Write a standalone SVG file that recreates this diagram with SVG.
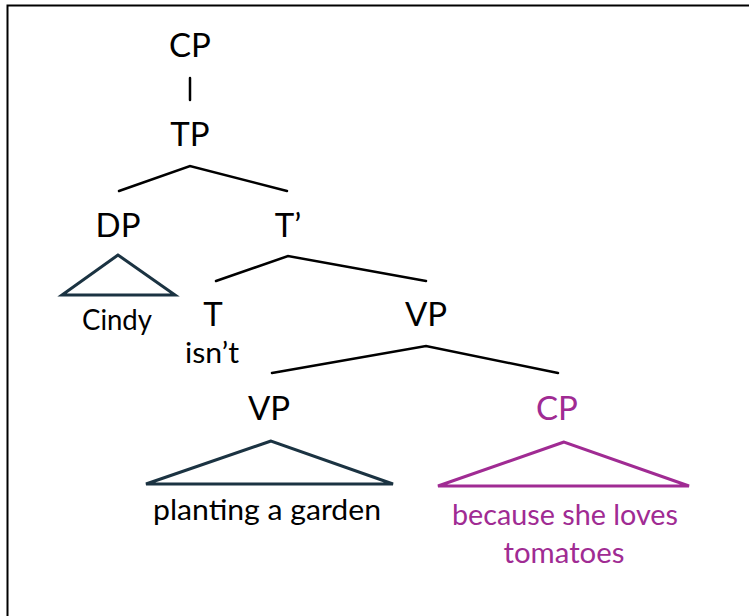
<svg xmlns="http://www.w3.org/2000/svg" width="749" height="616" viewBox="0 0 749 616">
<style>
.lbl{font-family:Lato,"Liberation Sans",sans-serif;font-size:33px;fill:#000;text-anchor:middle}
.sm{font-family:Lato,"Liberation Sans",sans-serif;font-size:28px;fill:#000;text-anchor:middle}
.pur{fill:#a02b93}
.edge{stroke:#000;stroke-width:2.5;fill:none;stroke-linecap:round}
.tri{fill:none;stroke:#1b3342;stroke-width:3;stroke-linejoin:miter}
.tri.p{stroke:#a02b93}
</style>
<rect x="7.5" y="5.5" width="760" height="700" fill="#fff" stroke="#000" stroke-width="2"/>
<g id="connectors">
<line class="edge" x1="190" y1="78" x2="190" y2="100"/>
<polyline class="edge" points="119,191 190,166 287,191"/>
<polyline class="edge" points="216,281 288,256 426,281"/>
<polyline class="edge" points="272,373 426,346 558,373"/>
</g>
<g id="CP-top"><text class="lbl" x="190" y="57">CP</text></g>
<g id="TP"><text class="lbl" x="190" y="146">TP</text></g>
<g id="DP"><text class="lbl" x="118" y="237">DP</text>
<polygon class="tri" points="118,255 62,295 175,295"/>
<text class="sm" x="117" y="330" textLength="70" lengthAdjust="spacingAndGlyphs">Cindy</text></g>
<g id="Tbar"><text class="lbl" x="288" y="237">T’</text></g>
<g id="T"><text class="lbl" x="213" y="326">T</text>
<text class="sm" x="212" y="363" textLength="54" lengthAdjust="spacingAndGlyphs">isn’t</text></g>
<g id="VP-top"><text class="lbl" x="426" y="326">VP</text></g>
<g id="VP-low"><text class="lbl" x="269" y="420">VP</text>
<polygon class="tri" points="271,441 146,484 393,484"/>
<text class="sm" x="267" y="520" textLength="228" lengthAdjust="spacingAndGlyphs">planting a garden</text></g>
<g id="CP-adjunct"><text class="lbl pur" x="557" y="420">CP</text>
<polygon class="tri p" points="564,442 438,486 689,486"/>
<text class="sm pur" x="565" y="525" textLength="226" lengthAdjust="spacingAndGlyphs">because she loves</text>
<text class="sm pur" x="564" y="563" textLength="121" lengthAdjust="spacingAndGlyphs">tomatoes</text></g>
</svg>
